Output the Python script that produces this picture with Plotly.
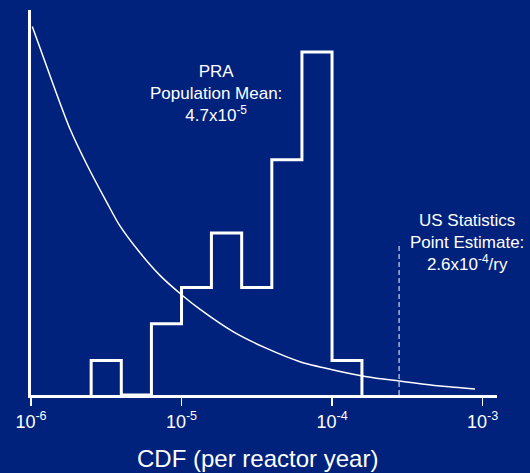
import plotly.graph_objects as go

# ---- data ----
bin_edges = [2.51e-6, 3.98e-6, 6.31e-6, 1.00e-5, 1.58e-5, 2.51e-5, 3.98e-5, 6.31e-5, 1.00e-4, 1.58e-4]
bin_heights = [0.96, 0.0, 1.99, 3.0, 4.52, 3.0, 6.57, 9.58, 0.96]

curve_x = [1.02e-6, 1.41e-6, 1.82e-6, 2.34e-6, 3.15e-6, 3.90e-6, 5.30e-6, 7.19e-6,
           1.00e-5, 1.33e-5, 2.20e-5, 3.68e-5, 6.12e-5, 1.02e-4, 1.70e-4, 2.79e-4, 5.22e-4, 8.91e-4]
curve_y = [10.29, 8.65, 7.42, 6.45, 5.42, 4.72, 3.97, 3.34,
           2.80, 2.39, 1.77, 1.30, 0.93, 0.70, 0.51, 0.39, 0.25, 0.17]

us_line_x = 2.79e-4
us_line_top = 4.25

tick_vals = [1e-6, 1e-5, 1e-4, 1e-3]
tick_text = ["10<sup>-6</sup>", "10<sup>-5</sup>", "10<sup>-4</sup>", "10<sup>-3</sup>"]

BG = "#00227C"
FONT = "Arial, Liberation Sans, sans-serif"

# histogram outline vertices built from edges/heights
hx, hy = [bin_edges[0]], [0.0]
for i, h in enumerate(bin_heights):
    hx += [bin_edges[i], bin_edges[i + 1]]
    hy += [h, h]
hx.append(bin_edges[-1])
hy.append(0.0)

fig = go.Figure()
fig.add_trace(go.Scatter(x=curve_x, y=curve_y, mode="lines",
                         line=dict(color="white", width=1.5, shape="spline", smoothing=0.8),
                         hoverinfo="skip"))
fig.add_trace(go.Scatter(x=[us_line_x, us_line_x], y=[0, us_line_top], mode="lines",
                         line=dict(color="#A9B2CF", width=1.5, dash="5px,3px"), hoverinfo="skip"))
fig.add_trace(go.Scatter(x=hx, y=hy, mode="lines", line=dict(color="white", width=3), hoverinfo="skip"))

fig.update_layout(
    width=530, height=473,
    margin=dict(l=31, r=33, t=10, b=78),
    paper_bgcolor=BG, plot_bgcolor=BG,
    showlegend=False,
    font=dict(family=FONT, color="white"),
    xaxis=dict(type="log", range=[-6, -2.904], showgrid=False, zeroline=False, automargin=False,
               showline=True, linecolor="white", linewidth=3,
               tickvals=tick_vals, ticktext=tick_text, ticks="outside", ticklen=8, tickwidth=1.5,
               tickcolor="white", tickfont=dict(size=18, color="white", family=FONT)),
    yaxis=dict(range=[0, 10.75], showgrid=False, zeroline=False, showline=True, linecolor="white",
               linewidth=3, showticklabels=False, ticks="", automargin=False),
    annotations=[
        dict(text="CDF (per reactor year)", x=0.485, y=-0.166, xref="paper", yref="paper",
             showarrow=False, font=dict(size=24, color="white", family=FONT), xanchor="center", yanchor="middle"),
        dict(text="PRA<br>Population Mean:<br>4.7x10<sup>-5</sup>", x=0.397, y=0.784, xref="paper", yref="paper",
             showarrow=False, align="center", font=dict(size=17, color="white", family=FONT),
             xanchor="center", yanchor="middle"),
        dict(text="US Statistics<br>Point Estimate:<br>2.6x10<sup>-4</sup>/ry", x=0.936, y=0.397, xref="paper",
             yref="paper", showarrow=False, align="center", font=dict(size=17, color="white", family=FONT),
             xanchor="center", yanchor="middle"),
    ],
)

fig.write_html("out.html", config={"displayModeBar": False, "staticPlot": True},
               post_script="document.body.style.margin='0';document.body.style.overflow='hidden';"
                           "document.body.style.background='" + BG + "';")
